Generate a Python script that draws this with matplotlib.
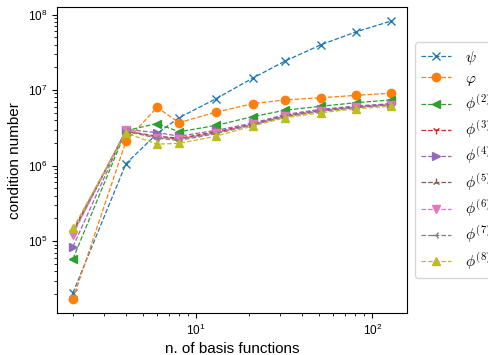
import matplotlib
matplotlib.use("Agg")
import matplotlib.pyplot as plt

plt.rcParams['mathtext.fontset'] = 'cm'
plt.rcParams['font.family'] = ['Liberation Sans', 'DejaVu Sans']

n_basis = [2, 4, 6, 8, 13, 21, 32, 51, 81, 128]

psi   = [2.06e4, 1.06e6, 2.65e6, 4.3e6, 7.7e6, 1.44e7, 2.42e7, 3.97e7, 5.9e7, 8.2e7]
vphi  = [1.7e4, 2.1e6, 5.9e6, 3.7e6, 5.1e6, 6.6e6, 7.4e6, 7.9e6, 8.5e6, 9.1e6]
phi2  = [5.8e4, 2.9e6, 3.6e6, 2.8e6, 3.4e6, 4.45e6, 5.4e6, 6.1e6, 6.8e6, 7.4e6]
phi3  = [1.28e5, 2.85e6, 2.45e6, 2.3e6, 2.8e6, 3.55e6, 4.6e6, 5.4e6, 6.0e6, 6.5e6]
phi4  = [8.4e4, 3.0e6, 2.73e6, 2.45e6, 2.93e6, 3.65e6, 4.75e6, 5.55e6, 6.15e6, 6.6e6]
phi5  = [1.33e5, 2.85e6, 2.4e6, 2.25e6, 2.75e6, 3.5e6, 4.55e6, 5.35e6, 5.95e6, 6.45e6]
phi6  = [1.22e5, 2.95e6, 2.34e6, 2.22e6, 2.72e6, 3.5e6, 4.5e6, 5.3e6, 5.9e6, 6.4e6]
phi7  = [1.4e5, 2.85e6, 2.3e6, 2.15e6, 2.65e6, 3.45e6, 4.45e6, 5.2e6, 5.85e6, 6.35e6]
phi8  = [1.47e5, 2.7e6, 1.92e6, 1.97e6, 2.45e6, 3.35e6, 4.3e6, 5.0e6, 5.65e6, 6.1e6]

series = [psi, vphi, phi2, phi3, phi4, phi5, phi6, phi7, phi8]
labels = [r'$\psi$', r'$\varphi$'] + [r'$\phi^{(%d)}$' % k for k in range(2, 9)]
markers = ['x', 'o', '<', '1', '>', '2', 'v', '3', '^']

fig = plt.figure(figsize=(4.89, 3.55), dpi=100)
ax = fig.add_axes([0.1166, 0.118, 0.716, 0.862])
for ys, lab, m in zip(series, labels, markers):
    ax.plot(n_basis, ys, linestyle='--', marker=m, linewidth=0.9, markersize=6, label=lab)
ax.set_xscale('log')
ax.set_yscale('log')
ax.tick_params(axis='both', which='major', labelsize=8.5)
ax.set_xlabel('n. of basis functions', fontsize=11, labelpad=3)
ax.set_ylabel('condition number', fontsize=11)
ax.legend(loc='center left', bbox_to_anchor=(1.0, 0.5), fontsize=11,
          labelspacing=0.33, handlelength=2.0, handletextpad=0.9)
fig.savefig('out.png', dpi=100)
